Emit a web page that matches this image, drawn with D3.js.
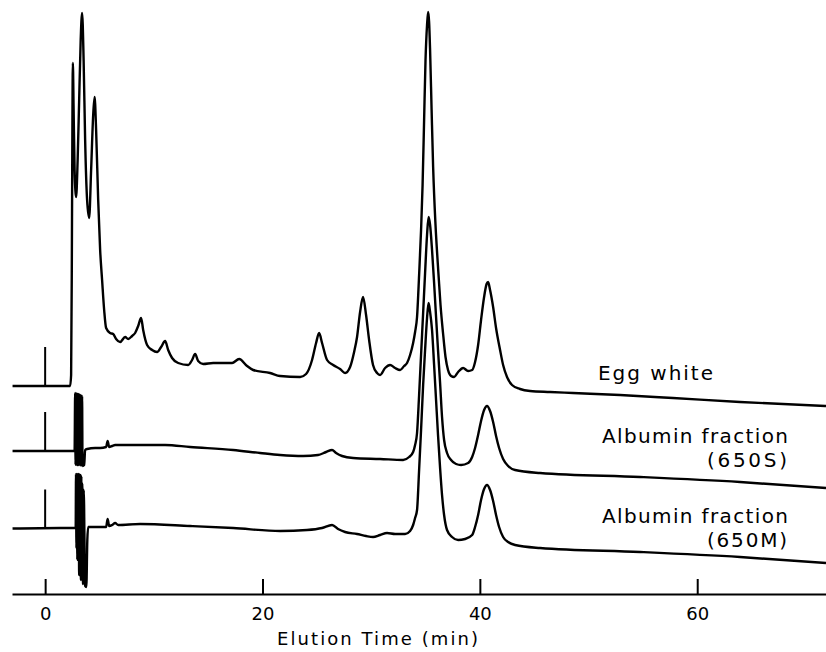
<!DOCTYPE html>
<html>
<head>
<meta charset="utf-8">
<script src="https://cdn.jsdelivr.net/npm/d3@7"></script>
<style>
  html, body { margin: 0; padding: 0; background: #fff; }
  svg { display: block; }
</style>
</head>
<body>
<svg id="chart" width="826" height="652"></svg>
<script>
// Elution profiles: [time (min), detector response above the trace's own baseline]
const eggWhite = [
  [-3.0,0],[2.30,0],[2.39,2.2],[2.46,27.2],[2.51,53.2],[2.55,64.6],[2.62,55.2],[2.71,43.2],[2.85,37.8],
  [2.99,45.2],[3.13,57.2],[3.27,69.2],[3.40,74.6],[3.54,65.2],[3.68,49.2],[3.86,37.2],[4.05,33.6],
  [4.23,43.2],[4.42,54.2],[4.55,57.8],[4.69,51.2],[4.88,37.2],[5.06,27.2],[5.24,21.2],[5.43,15.2],
  [5.61,11.6],[5.98,10.6],[6.26,10.4],[6.53,9.4],[6.90,8.8],[7.36,9.8],[7.64,9.4],[8.00,10.0],
  [8.28,10.6],[8.56,12.0],[8.83,13.6],[9.02,11.2],[9.38,8.2],[9.84,7.2],[10.30,6.8],[10.67,7.8],
  [11.04,9.0],[11.32,7.2],[11.68,5.6],[12.24,4.6],[13.16,4.2],[13.52,5.2],[13.80,6.4],[14.08,5.0],
  [14.54,4.4],[15.46,4.6],[16.56,4.6],[17.20,4.6],[17.85,5.4],[18.58,4.0],[19.14,3.2],[20.70,2.6],
  [21.62,2.0],[23.46,1.8],[24.01,2.4],[24.56,5.2],[24.93,8.6],[25.21,10.6],[25.48,8.6],[25.94,5.2],
  [26.50,4.2],[27.14,3.4],[27.60,2.6],[28.06,3.8],[28.43,6.8],[28.70,9.8],[28.98,14.8],[29.25,17.8],
  [29.53,14.2],[29.81,9.2],[30.17,4.2],[30.54,2.6],[30.82,2.2],[31.28,3.6],[31.74,4.2],[32.20,3.6],
  [32.66,3.2],[33.03,4.0],[33.30,4.6],[33.58,6.2],[33.86,8.6],[34.04,10.8],[34.22,13.8],[34.41,22.2],
  [34.59,31.2],[34.73,40.2],[34.87,53.2],[35.00,65.2],[35.14,72.2],[35.24,74.8],[35.33,72.8],
  [35.42,67.2],[35.56,55.2],[35.70,43.8],[35.92,32.2],[36.15,23.8],[36.38,16.2],[36.61,10.6],
  [36.84,5.8],[37.07,3.2],[37.35,2.0],[37.63,1.8],[38.00,2.8],[38.46,3.6],[38.92,3.0],[39.29,3.2],
  [39.56,4.8],[39.84,8.2],[40.11,13.2],[40.39,17.8],[40.62,20.4],[40.76,20.8],[40.94,19.2],
  [41.22,15.8],[41.49,11.6],[41.86,7.2],[42.14,4.2],[42.50,1.8],[42.96,0.2],[43.70,-0.6],
  [44.62,-1.0],[46.46,-1.2],[48.57,-1.4],[52.90,-1.8],[57.77,-2.4],[63.94,-3.2],[71.85,-4.0]
];

const albumin650S = [
  [-3.0,0],[2.71,0],
  [2.76,11.6],[2.80,-2.8],[2.84,11.5],[2.88,-2.8],[2.92,11.5],[2.96,-2.8],[3.00,11.4],[3.04,-2.8],
  [3.08,11.4],[3.12,-2.8],[3.16,11.3],[3.20,-2.8],[3.24,11.2],[3.28,-2.9],[3.32,11.1],[3.36,-2.9],
  [3.40,11.0],[3.44,-3.0],[3.59,-2.8],[3.68,0.2],[3.86,0.4],[4.60,0.6],[5.06,0.6],[5.61,0.8],
  [5.75,2.0],[5.89,0.8],[6.16,1.0],[6.44,1.2],[8.74,1.2],[11.04,1.2],[13.34,0.8],[17.30,0.2],
  [19.78,-0.4],[21.62,-0.8],[23.74,-1.0],[25.11,-0.8],[25.85,-0.2],[26.40,0.2],[26.77,-0.4],
  [27.32,-1.0],[28.34,-1.4],[30.82,-1.6],[32.94,-1.8],[33.49,-1.2],[33.86,-0.2],[34.04,1.2],
  [34.22,3.6],[34.41,11.2],[34.59,19.2],[34.78,27.6],[34.96,35.6],[35.14,43.2],[35.28,46.8],
  [35.42,45.2],[35.60,40.2],[35.79,33.6],[35.97,26.8],[36.15,20.2],[36.34,13.6],[36.52,6.8],
  [36.71,2.2],[36.98,-0.4],[37.35,-1.8],[37.81,-2.6],[38.27,-2.8],[38.92,-2.4],[39.29,-1.2],
  [39.56,0.6],[39.84,3.2],[40.11,6.0],[40.39,8.2],[40.66,9.0],[40.94,8.0],[41.22,5.8],[41.49,3.0],
  [41.77,0.6],[42.14,-1.6],[42.60,-3.0],[43.24,-3.8],[45.54,-4.4],[54.74,-5.2],[63.94,-6.2],[71.85,-7.4]
];

const albumin650M = [
  [-3.0,0],[1.38,0.1],[2.81,0.1],
  [2.84,10.9],[2.88,-4.0],[2.92,10.9],[2.96,-6.3],[3.00,10.9],[3.04,-5.0],[3.08,10.9],[3.13,-9.3],
  [3.17,10.8],[3.21,-6.0],[3.25,10.7],[3.29,-10.3],[3.33,10.5],[3.37,-6.0],[3.41,9.0],[3.48,-11.1],
  [3.55,7.7],[3.68,-11.5],[3.79,-11.7],[3.88,-2.3],[3.96,0.3],[4.60,0.3],[5.61,0.3],[5.75,1.9],
  [5.89,0.5],[6.16,0.7],[6.44,1.1],[6.72,0.7],[8.74,0.9],[13.34,0.5],[17.30,0.1],[21.62,-0.5],
  [24.10,-0.3],[25.48,0.1],[26.40,0.7],[26.95,-0.1],[27.60,-0.7],[28.70,-1.1],[29.53,-1.5],
  [30.17,-1.7],[30.82,-1.3],[31.46,-0.9],[32.20,-1.1],[33.12,-1.1],[33.58,-0.5],[33.86,0.7],
  [34.04,2.1],[34.22,3.7],[34.41,11.7],[34.59,19.7],[34.78,28.7],[34.96,35.7],[35.14,42.1],
  [35.28,45.1],[35.42,43.3],[35.60,39.7],[35.79,32.7],[35.97,25.7],[36.15,18.7],[36.34,12.1],
  [36.52,6.7],[36.71,2.7],[36.98,-0.3],[37.44,-1.7],[38.00,-2.3],[38.64,-2.1],[39.29,-1.3],
  [39.56,0.3],[39.84,2.7],[40.11,5.7],[40.39,7.9],[40.66,8.7],[40.94,7.7],[41.22,5.5],[41.49,2.7],
  [41.77,0.3],[42.14,-1.7],[42.60,-2.7],[43.24,-3.3],[45.54,-3.9],[54.74,-4.7],[63.94,-5.7],[71.85,-6.9]
];

const sampleLabels = [["Egg white"], ["Albumin fraction", "(650S)"], ["Albumin fraction", "(650M)"]];
const timeTicks = [0, 20, 40, 60];
const injectionTime = 0;
const axisTitle = "Elution Time (min)";

// Layout
const traceOffsets = [41.6, 28.6, 13.1];     // vertical stacking of the three chromatograms
const injectionMarkHeight = 7.8;
const font = "'DejaVu Sans', sans-serif";

const svg = d3.select("#chart");
const x = d3.scaleLinear().domain([-3.05, 71.85]).range([12, 826]);
const y = d3.scaleLinear().domain([0, 118.8]).range([594, 0]);

const traces = [eggWhite, albumin650S, albumin650M];

// Time axis with upward ticks
const axis = d3.axisBottom(x).tickValues(timeTicks).tickSize(-15).tickSizeOuter(0).tickPadding(13);
const gAxis = svg.append("g").attr("transform", `translate(0,${y(0)})`).call(axis);
gAxis.select(".domain").attr("stroke", "#000").attr("stroke-width", 2);
gAxis.selectAll(".tick line").attr("stroke", "#000").attr("stroke-width", 2);
gAxis.selectAll(".tick text").attr("fill", "#000").attr("font-family", font).attr("font-size", 18);

svg.append("text")
  .attr("x", 277).attr("y", 645)
  .attr("font-family", font).attr("font-size", 18).attr("fill", "#000")
  .attr("textLength", 201).attr("lengthAdjust", "spacing")
  .text(axisTitle);

// Chromatograms
const line = d3.line().curve(d3.curveMonotoneX);
traces.forEach((data, i) => {
  const off = traceOffsets[i];
  svg.append("path")
    .datum(data)
    .attr("fill", "none")
    .attr("stroke", "#000")
    .attr("stroke-width", 2.4)
    .attr("stroke-linejoin", "round")
    .attr("d", line.x(d => x(d[0])).y(d => y(d[1] + off)));

  // injection mark
  svg.append("line")
    .attr("x1", x(injectionTime)).attr("x2", x(injectionTime))
    .attr("y1", y(off)).attr("y2", y(off + injectionMarkHeight))
    .attr("stroke", "#000").attr("stroke-width", 2);
});

// Sample labels
const labelSpecs = [
  [{ x: 598, y: 380, anchor: "start", len: 115 }],
  [{ x: 788, y: 443, anchor: "end", len: 186 }, { x: 787, y: 467, anchor: "end", len: 80 }],
  [{ x: 788, y: 523, anchor: "end", len: 186 }, { x: 787, y: 547, anchor: "end", len: 80 }]
];
sampleLabels.forEach((lines, i) => {
  lines.forEach((txt, j) => {
    const s = labelSpecs[i][j];
    svg.append("text")
      .attr("x", s.x).attr("y", s.y)
      .attr("text-anchor", s.anchor)
      .attr("font-family", font).attr("font-size", 20).attr("fill", "#000")
      .attr("textLength", s.len).attr("lengthAdjust", "spacing")
      .text(txt);
  });
});
</script>
</body>
</html>
